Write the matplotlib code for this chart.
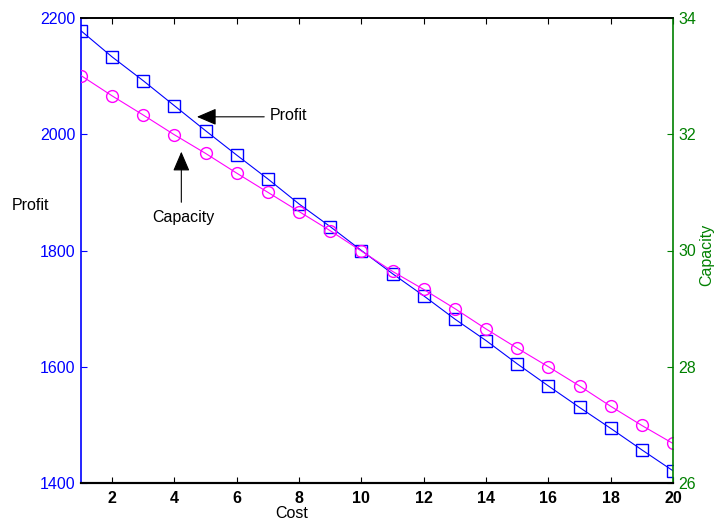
import matplotlib
matplotlib.use("Agg")
import matplotlib.pyplot as plt

plt.rcParams['font.family'] = ['Liberation Sans', 'DejaVu Sans']

cost = list(range(1, 21))
profit = [2178, 2133, 2092, 2049, 2006, 1964, 1923, 1880, 1841, 1800,
          1760, 1722, 1682, 1645, 1605, 1567, 1530, 1494, 1457, 1421]
capacity = [33.01, 32.66, 32.33, 31.99, 31.67, 31.33, 31.0, 30.67, 30.34, 29.99,
            29.64, 29.33, 29.0, 28.65, 28.32, 28.0, 27.67, 27.32, 26.99, 26.68]
x_ticks = [2, 4, 6, 8, 10, 12, 14, 16, 18, 20]
profit_ticks = [1400, 1600, 1800, 2000, 2200]
capacity_ticks = [26, 28, 30, 32, 34]

blue = '#0000ff'
magenta = '#ff00ff'
green = '#008000'

fig = plt.figure(figsize=(7.15, 5.22), dpi=100)
ax = fig.add_axes([81/715, 1-483/522, (673-81)/715, (483-18)/522])
ax2 = ax.twinx()

ax.plot(cost, profit, color=blue, lw=0.8, marker='s', ms=8.5,
        mfc='none', mec=blue, mew=1.0)
ax2.plot(cost, capacity, color=magenta, lw=0.8, marker='o', ms=8.5,
         mfc='none', mec=magenta, mew=1.0)

ax.set_xlim(1, 20)
ax.set_ylim(1400, 2200)
ax2.set_ylim(26, 34)
ax.set_xticks(x_ticks)
ax.set_yticks(profit_ticks)
ax2.set_yticks(capacity_ticks)

fs = 11.5
ax.tick_params(axis='x', direction='in', top=True, length=4, width=0.8,
               labelsize=fs, colors='black', pad=6)
for lab in ax.get_xticklabels():
    lab.set_fontweight('bold')
ax.tick_params(axis='y', direction='in', length=4, width=0.8,
               labelsize=fs, colors=blue, pad=4)
ax2.tick_params(axis='y', direction='in', length=4, width=0.8,
                labelsize=fs, colors=green, pad=4)

ax.spines['left'].set_color(blue)
ax.spines['left'].set_linewidth(1.2)
ax2.spines['left'].set_visible(False)
ax2.spines['right'].set_color(green)
ax2.spines['right'].set_linewidth(1.2)
ax.spines['right'].set_visible(False)
for a in (ax, ax2):
    a.spines['top'].set_color('black')
    a.spines['top'].set_linewidth(1.2)
    a.spines['bottom'].set_color('black')
    a.spines['bottom'].set_linewidth(1.5)

fig.text(12/715, 1-205/522, 'Profit', fontsize=fs, color='black',
         ha='left', va='center')
fig.text(707/715, 1-255/522, 'Capacity', fontsize=fs, color=green,
         rotation=90, ha='center', va='center')
fig.text(292/715, 1-513/522, 'Cost', fontsize=fs, color='black',
         ha='center', va='center')

astyle = '-|>,head_length=1.05,head_width=0.45'
# Profit annotation
ax.text(7.05, 2033, 'Profit', fontsize=fs, va='center', ha='left')
ax.annotate('', xy=(4.72, 2030), xytext=(6.88, 2030),
            arrowprops=dict(arrowstyle=astyle, color='black', lw=0.8,
                            shrinkA=0, shrinkB=0, mutation_scale=fs))
# Capacity annotation
ax.text(4.28, 1856, 'Capacity', fontsize=fs, va='center', ha='center')
ax.annotate('', xy=(4.22, 1970), xytext=(4.22, 1883),
            arrowprops=dict(arrowstyle=astyle, color='black', lw=0.8,
                            shrinkA=0, shrinkB=0, mutation_scale=fs))

fig.savefig('out.png', dpi=100)
